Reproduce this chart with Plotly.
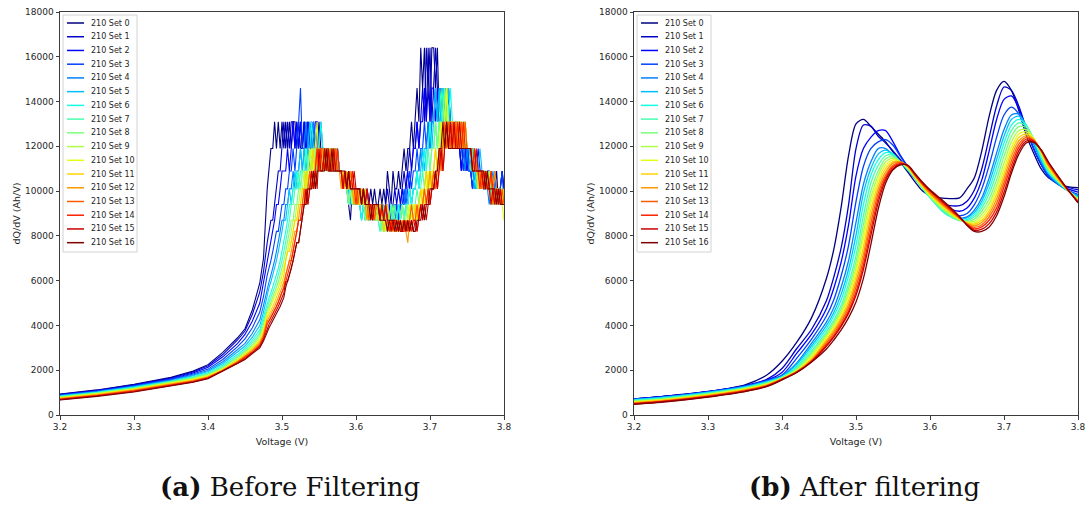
import plotly.graph_objects as go

# ---------------------------------------------------------------- data
SET_LABELS = ["210 Set %d" % i for i in range(17)]
X_TICKS = [3.2, 3.3, 3.4, 3.5, 3.6, 3.7, 3.8]
X_TICK_TEXT = ["3.2", "3.3", "3.4", "3.5", "3.6", "3.7", "3.8"]
Y_TICKS = [0, 2000, 4000, 6000, 8000, 10000, 12000, 14000, 16000, 18000]

# Raw dQ/dV: smooth low-voltage part
V_RAW_LOW = [3.20, 3.25, 3.30, 3.35, 3.38, 3.40, 3.42, 3.44, 3.45, 3.46, 3.47, 3.475]
RAW_LOW_0 = [940, 1120, 1370, 1680, 1960, 2250, 2800, 3450, 3850, 4700, 5900, 7000]
RAW_LOW_1 = [923, 1100, 1345, 1650, 1920, 2200, 2700, 3350, 3750, 4500, 5500, 6400]
RAW_LOW_2 = [906, 1080, 1320, 1620, 1880, 2130, 2600, 3200, 3600, 4200, 5000, 5900]
RAW_LOW_3 = [889, 1065, 1300, 1590, 1830, 2050, 2480, 3050, 3400, 3900, 4600, 5300]
RAW_LOW_4 = [872, 1050, 1280, 1560, 1790, 1990, 2380, 2900, 3200, 3650, 4250, 4900]
RAW_LOW_5 = [855, 1030, 1260, 1530, 1750, 1940, 2300, 2800, 3080, 3480, 4000, 4600]
RAW_LOW_6 = [838, 1010, 1235, 1505, 1710, 1890, 2230, 2700, 2980, 3350, 3800, 4400]
RAW_LOW_7 = [821, 995, 1215, 1480, 1680, 1850, 2170, 2620, 2900, 3250, 3650, 4200]
RAW_LOW_8 = [804, 980, 1195, 1460, 1650, 1810, 2120, 2560, 2830, 3150, 3550, 4050]
RAW_LOW_9 = [787, 960, 1175, 1440, 1620, 1780, 2080, 2510, 2770, 3070, 3450, 3900]
RAW_LOW_10 = [770, 945, 1155, 1420, 1590, 1750, 2050, 2470, 2720, 3000, 3380, 3800]
RAW_LOW_11 = [753, 925, 1135, 1400, 1560, 1720, 2020, 2430, 2670, 2950, 3300, 3700]
RAW_LOW_12 = [736, 905, 1115, 1380, 1540, 1700, 2000, 2400, 2630, 2900, 3230, 3600]
RAW_LOW_13 = [719, 885, 1095, 1360, 1520, 1680, 1990, 2370, 2590, 2850, 3170, 3520]
RAW_LOW_14 = [702, 870, 1075, 1340, 1500, 1660, 1975, 2340, 2560, 2800, 3110, 3450]
RAW_LOW_15 = [685, 850, 1050, 1320, 1480, 1640, 1960, 2310, 2520, 2770, 3060, 3380]
RAW_LOW_16 = [670, 830, 1030, 1300, 1460, 1620, 1950, 2280, 2480, 2740, 3000, 3300]

# Above 3.48 V the raw dQ/dV only takes a few discrete levels (coarse dV steps);
# each letter below is one sample, looked up in STEP_LEVELS.
STEP_LEVELS = {"A": 16400, "B": 14600, "C": 13100, "D": 11900, "E": 10900,
               "F": 10100, "G": 9400, "H": 8700, "I": 8200, "J": 7700,
               "K": 7300, "L": 6900, "M": 6550, "N": 6250, "O": 5950,
               "P": 5700, "Q": 5450, "R": 5250, "S": 5050, "T": 4850,
               "U": 4700, "V": 4500, "W": 4350, "X": 4200, "Y": 4050,
               "Z": 3900, "a": 3750}
V_RAW_STEP = [
    3.4800, 3.4825, 3.4850, 3.4875, 3.4900, 3.4925, 3.4950, 3.4975, 3.5000, 3.5025,
    3.5050, 3.5075, 3.5100, 3.5125, 3.5150, 3.5175, 3.5200, 3.5225, 3.5250, 3.5275,
    3.5300, 3.5325, 3.5350, 3.5375, 3.5400, 3.5425, 3.5450, 3.5475, 3.5500, 3.5525,
    3.5550, 3.5575, 3.5600, 3.5625, 3.5650, 3.5675, 3.5700, 3.5725, 3.5750, 3.5775,
    3.5800, 3.5825, 3.5850, 3.5875, 3.5900, 3.5925, 3.5950, 3.5975, 3.6000, 3.6025,
    3.6050, 3.6075, 3.6100, 3.6125, 3.6150, 3.6175, 3.6200, 3.6225, 3.6250, 3.6275,
    3.6300, 3.6325, 3.6350, 3.6375, 3.6400, 3.6425, 3.6450, 3.6475, 3.6500, 3.6525,
    3.6550, 3.6575, 3.6600, 3.6625, 3.6650, 3.6675, 3.6700, 3.6725, 3.6750, 3.6775,
    3.6800, 3.6825, 3.6850, 3.6875, 3.6900, 3.6925, 3.6950, 3.6975, 3.7000, 3.7025,
    3.7050, 3.7075, 3.7100, 3.7125, 3.7150, 3.7175, 3.7200, 3.7225, 3.7250, 3.7275,
    3.7300, 3.7325, 3.7350, 3.7375, 3.7400, 3.7425, 3.7450, 3.7475, 3.7500, 3.7525,
    3.7550, 3.7575, 3.7600, 3.7625, 3.7650, 3.7675, 3.7700, 3.7725, 3.7750, 3.7775,
    3.7800, 3.7825, 3.7850, 3.7875, 3.7900, 3.7925, 3.7950, 3.7975, 3.8000]
RAW_STEP_0 = ("FEDDCDCDCD CDCDCCDCDD CDCDDCDDCD DEDDEDEEDE EFEFGHFGFG FGFGFGFGFG GFGFGEFGEF "
              "FEFEDEDDCD CBCABACACA ABACBCBCBC CDCDDEDEDE EFEFEFEFFE EFGFEGFEF")
RAW_STEP_1 = ("JIHHGFEEDC DCDCCDCDCD CDCDCDDCDD DEDDEDEDEE EFEFEFGFGF FGFGFGGHGG GHGHGFGHGF "
              "GFGFEFEDED DCDCBCABAC BABCBCBCBC CDCDDEDDED EDEFEEFEFE FEFGFGFEF")
RAW_STEP_2 = ("LKJIHGGFEE EDEDCDCDCD CDCDCDCCDD DDEDDEDEDE EFEFEFGFGF FGFGGHGHGH GHGHGHGHGH "
              "GHGFGFEFED DCDCCBCBCB BCBCBCBCCD CDCDDEDDED EFEEDEFEFE FGFEFGFGF")
RAW_STEP_3 = ("NMLKJIIHGG FFEEDEDCBD DCDCDCDCDC DEDEDEEDEE EFEFEFGFGF GFGFGHGHGH HGHGHGHIHG "
              "GHGGFGFEFE EDEDDCDCDC CBCBCBCBCC CDCDDDEDDE EFEFEFEFEF FEFGFGFEG")
RAW_STEP_4 = ("PONMLKJIHH GGFFEFEEDE DCDEDCDEDD DEDEDEEDEE EFEFFGFGFG GHGHGHGHGH HGHIHGHIHG "
              "HGHGGFGFGF FEEDEDDCDC CBCBCBCBCC CDCDCDDEDE EDEFEFEFEF GFEFGFGFG")
RAW_STEP_5 = ("QPONMLKJIH HGFGFEFEDE DEDCDEDEDE DEDEDEDEEE EFEFFGFGFG GHGHGHGHGH HGHIHGHIHI "
              "HGHGHGGFGF FEFEDEDDCD CBCBCCBCBC CDCDCDDCDD DEFEEDEFEF FGFGFGFGF")
RAW_STEP_6 = ("SRQPONMLKJ IHGGFFEFEE EDEDCDEDDC DEDEEDEDEE EFEFGFGFGF GHGHGHGHGH HIHGHIHGHI "
              "HGHGHGGFGF FEFEEDEDCD DCDCCBCBCB CDCDCDCDDD EDEFEFEFEF EFGFGFGFG")
RAW_STEP_7 = ("TSRQPONMLK JIHGGFFEFE EDEDEDDEDD DEDEEDEDEE EFEFGFGFGF FGFGHGGHGH HIHIHIHGHG "
              "HIHGHGHGHG GFGFEFEDED DCDCBCBCDC CDCDCDDCDD DEDEFEFEFE FEFGFGFGF")
RAW_STEP_8 = ("UTSRQPONML KJIHHGGFFE EFEDEDEDED EDEDEEDEDE EFEFGFGFFG GFGHGHGHGH GHIHIHIHGH "
              "HIHGHIHGHG GHGFGFEFED DCDCDCBCDC CDCDCDCDDD DEDEFEFEEF FGFGFFGFG")
RAW_STEP_9 = ("VUTSRQPONM LKJIHHGGFF EFEDEDEDDE DEDEDEDEEE EFEFEFGFGF GFGFGHGHGH HGHIHGHIHI "
              "IHIHIHGHGH GHGFGFEFEF EDEDCDCBCD DCDCCDCDDD DEDEEFEFEF EFGFGFGFG")
RAW_STEP_10 = ("VUTSRQPONM LKJJIHHGGF FEFEDEDCED EDEDDEDEEE EFEFEFFGFG FGFGHGHGHG GHGHIHIHIH "
               "HIHIHIHGHG GHGGFGFEFE EDEDCDCBDC CDCDDCDCDD DEDEEFEFEF FEFGFGFGH")
RAW_STEP_11 = ("WVUTSRQPON LKKJIHHGGF FEFEEDEDED DEDEEDEDEE EFEFFEFGFG GFGFGHGGHG HGHIHGHIHI "
               "IHIHIHIHGH GHGFGFEFEF EDEDDCDCDC CDCDCDCDDD DEDEFEFEFE FEFGFGFGF")
RAW_STEP_12 = ("XWVUTSRQPO NMLKJIIHGG FGFEFEFEDE EDEDEDEDEE FEFEFEFGFG FGFGHGHGHG GHGHGHIHIH "
               "HIHIHIJHIH HGHGGFGFEF EFEDEDCDCD DCDCDCDCDD DEDEEFEFEF FGFEFGFGG")
RAW_STEP_13 = ("XXWVUTSRQP NMLLKJIHHG FGFEFEEDED DEDEDEEDEE EFEFEFEFFG FGFGGHGGHG GHGHHIHIHI "
               "IHIHIHIHGH HGHGGFGFGF EFEDEDCDCD CDCDDCDCDD DEDEEEFEFE FEGFGFGFG")
RAW_STEP_14 = ("YXWVUTSRQP ONMLKJIHHG GFGFEFEDED EDEDEEDEDE EFEFEFEFGF FGFGFGGHGG GHGHGHIHIH "
               "HIHIIHIHIH HIHGHGGFGF FEFEDEDCDC DCDCDDCDDD DEDEEFEFEF FEFGFGFGG")
RAW_STEP_15 = ("ZYXWVUTSRQ OONMLKJJIH GFGFEFEFDE EDEDEEDEEE EFEFEFFEFF FGFGFGGHGG GHGHGHHIHH "
               "IHIIHIHIHI HIHGHGHGGF FEFEDEDCDC DCDDCDDDDD DEEDEEEFEF FGFGFGFGG")
RAW_STEP_16 = ("aZYXWVUTSR PONMLKJJIH GGFFFEFEEE EEDEEDEEEE EEEFEFFFFF FGFGGGHGGG GHHHHIHHHI "
               "HIHIHIHIHI IHHHGHGGFF FEEDDCDCDD DDDDDDDDDD DEEEEEEEFE FFFFGFGGG")

# Filtered dQ/dV
V_FILT = [3.20, 3.25, 3.30, 3.35, 3.38, 3.40, 3.42, 3.44, 3.46, 3.47, 3.48, 3.49,
          3.50, 3.51, 3.52, 3.53, 3.54, 3.55, 3.56, 3.57, 3.58, 3.59, 3.60, 3.62,
          3.64, 3.65, 3.66, 3.67, 3.68, 3.69, 3.70, 3.71, 3.72, 3.73, 3.74, 3.75,
          3.76, 3.78, 3.80]
FILT_0 = [720, 865, 1050, 1350, 1800, 2400, 3250, 4350, 6100, 7400, 9300, 11600, 13000, 13200, 12900, 12550, 12200, 11750, 11300, 10850, 10400, 10000, 9800, 9680, 9700, 10100, 10600, 11800, 13350, 14500, 14900, 14500, 13600, 12500, 11700, 11000, 10600, 10250, 10150]
FILT_1 = [715, 860, 1045, 1315, 1600, 2080, 2970, 3830, 5100, 6160, 7480, 9400, 11900, 12950, 12900, 12450, 12150, 11800, 11400, 10950, 10550, 10150, 9850, 9400, 9350, 9550, 10050, 11000, 12400, 13800, 14650, 14500, 13800, 12800, 11900, 11200, 10700, 10250, 10050]
FILT_2 = [710, 850, 1040, 1300, 1560, 1900, 2760, 3610, 4750, 5660, 6840, 8500, 10680, 11900, 12400, 12700, 12700, 12200, 11600, 11100, 10650, 10250, 9900, 9300, 9100, 9250, 9700, 10500, 11800, 13200, 14100, 14250, 13700, 12800, 11900, 11200, 10700, 10200, 9950]
FILT_3 = [705, 845, 1035, 1290, 1550, 1780, 2540, 3390, 4420, 5150, 6220, 7580, 9530, 11100, 11900, 12200, 12300, 12050, 11550, 11050, 10650, 10250, 9850, 9150, 8900, 9000, 9400, 10100, 11150, 12400, 13400, 13750, 13450, 12700, 11900, 11200, 10650, 10150, 9850]
FILT_4 = [695, 835, 1025, 1275, 1520, 1750, 2330, 3210, 4150, 4790, 5720, 6900, 8600, 10300, 11300, 11900, 11900, 11600, 11300, 10950, 10600, 10150, 9750, 9050, 8800, 8850, 9150, 9700, 10600, 11700, 12750, 13400, 13450, 12900, 12100, 11350, 10750, 10150, 9800]
FILT_5 = [680, 815, 1005, 1255, 1495, 1720, 2270, 3090, 3990, 4580, 5400, 6520, 8030, 9900, 11000, 11650, 11830, 11650, 11300, 10950, 10580, 10120, 9720, 9020, 8750, 8800, 9050, 9550, 10350, 11400, 12450, 13200, 13350, 12950, 12200, 11400, 10800, 10150, 9750]
FILT_6 = [660, 795, 985, 1235, 1470, 1700, 2180, 2990, 3850, 4420, 5150, 6220, 7580, 9400, 10700, 11400, 11720, 11650, 11300, 10950, 10560, 10100, 9700, 9000, 8700, 8730, 8950, 9400, 10100, 11100, 12150, 12950, 13200, 12950, 12300, 11500, 10850, 10200, 9700]
FILT_7 = [640, 775, 965, 1215, 1445, 1680, 2110, 2860, 3710, 4240, 4900, 5880, 7120, 8900, 10350, 11150, 11580, 11600, 11300, 10980, 10560, 10120, 9720, 9050, 8680, 8680, 8850, 9250, 9880, 10800, 11850, 12700, 13050, 12900, 12350, 11600, 10900, 10200, 9680]
FILT_8 = [620, 755, 945, 1195, 1420, 1660, 2050, 2770, 3610, 4120, 4750, 5660, 6840, 8500, 10000, 10900, 11450, 11530, 11300, 11000, 10580, 10150, 9750, 9100, 8700, 8650, 8750, 9100, 9650, 10500, 11550, 12450, 12880, 12850, 12350, 11650, 10950, 10200, 9650]
FILT_9 = [600, 735, 925, 1175, 1400, 1640, 2000, 2680, 3530, 4020, 4610, 5450, 6580, 8150, 9700, 10700, 11300, 11470, 11300, 11020, 10600, 10170, 9780, 9150, 8720, 8620, 8660, 8950, 9450, 10250, 11250, 12200, 12700, 12750, 12350, 11700, 11000, 10250, 9620]
FILT_10 = [580, 715, 905, 1155, 1380, 1630, 1970, 2610, 3460, 3930, 4510, 5300, 6400, 7850, 9450, 10500, 11150, 11400, 11300, 11050, 10620, 10200, 9820, 9200, 8740, 8600, 8580, 8820, 9280, 10050, 11000, 11950, 12550, 12650, 12350, 11750, 11050, 10250, 9600]
FILT_11 = [560, 695, 885, 1135, 1360, 1620, 1950, 2530, 3370, 3830, 4380, 5100, 6160, 7500, 9150, 10300, 11000, 11320, 11300, 11070, 10650, 10230, 9860, 9250, 8760, 8580, 8520, 8700, 9120, 9850, 10780, 11750, 12400, 12550, 12330, 11780, 11100, 10250, 9580]
FILT_12 = [540, 675, 865, 1115, 1340, 1610, 1940, 2460, 3290, 3730, 4270, 4940, 5930, 7200, 8850, 10100, 10850, 11250, 11300, 11100, 10680, 10260, 9900, 9300, 8780, 8560, 8450, 8600, 8980, 9650, 10580, 11550, 12250, 12470, 12300, 11800, 11150, 10300, 9560]
FILT_13 = [520, 655, 845, 1095, 1320, 1600, 1930, 2420, 3210, 3640, 4150, 4790, 5720, 6950, 8550, 9900, 10700, 11150, 11280, 11120, 10700, 10300, 9950, 9350, 8800, 8530, 8380, 8500, 8850, 9450, 10380, 11350, 12100, 12400, 12280, 11820, 11200, 10300, 9540]
FILT_14 = [505, 640, 830, 1080, 1305, 1590, 1920, 2400, 3130, 3550, 4040, 4640, 5500, 6700, 8250, 9700, 10600, 11080, 11240, 11130, 10720, 10330, 10000, 9400, 8820, 8510, 8310, 8400, 8700, 9250, 10180, 11150, 11950, 12320, 12250, 11830, 11250, 10300, 9520]
FILT_15 = [490, 625, 815, 1060, 1290, 1580, 1910, 2380, 3070, 3480, 3960, 4550, 5350, 6500, 8000, 9500, 10500, 11000, 11200, 11150, 10750, 10360, 10030, 9450, 8840, 8490, 8250, 8300, 8550, 9070, 9950, 10950, 11800, 12230, 12220, 11850, 11300, 10350, 9500]
FILT_16 = [475, 610, 800, 1045, 1275, 1570, 1900, 2370, 2950, 3350, 3800, 4350, 5050, 6100, 7600, 9200, 10350, 10950, 11170, 11150, 10780, 10400, 10060, 9500, 8860, 8470, 8200, 8200, 8400, 8900, 9750, 10800, 11650, 12150, 12180, 11850, 11300, 10350, 9480]

RAW_LOW = [RAW_LOW_0, RAW_LOW_1, RAW_LOW_2, RAW_LOW_3, RAW_LOW_4, RAW_LOW_5,
           RAW_LOW_6, RAW_LOW_7, RAW_LOW_8, RAW_LOW_9, RAW_LOW_10, RAW_LOW_11,
           RAW_LOW_12, RAW_LOW_13, RAW_LOW_14, RAW_LOW_15, RAW_LOW_16]
RAW_STEP = [RAW_STEP_0, RAW_STEP_1, RAW_STEP_2, RAW_STEP_3, RAW_STEP_4, RAW_STEP_5,
            RAW_STEP_6, RAW_STEP_7, RAW_STEP_8, RAW_STEP_9, RAW_STEP_10, RAW_STEP_11,
            RAW_STEP_12, RAW_STEP_13, RAW_STEP_14, RAW_STEP_15, RAW_STEP_16]
FILTERED = [FILT_0, FILT_1, FILT_2, FILT_3, FILT_4, FILT_5, FILT_6, FILT_7, FILT_8,
            FILT_9, FILT_10, FILT_11, FILT_12, FILT_13, FILT_14, FILT_15, FILT_16]

# ---------------------------------------------------------------- styling
W, H = 1086, 508
PLOT_TOP, PLOT_BOTTOM = 12, 415
PANELS = [(60, 504), (634, 1078)]


def jet(t):
    """Matplotlib 'jet' colormap."""
    def seg(pts):
        for (x0, y0), (x1, y1) in zip(pts[:-1], pts[1:]):
            if x0 <= t <= x1:
                return y0 + (y1 - y0) * (t - x0) / (x1 - x0)
        return pts[-1][1]
    r = seg([(0, 0), (0.35, 0), (0.66, 1), (0.89, 1), (1, 0.5)])
    g = seg([(0, 0), (0.125, 0), (0.375, 1), (0.64, 1), (0.91, 0), (1, 0)])
    b = seg([(0, 0.5), (0.11, 1), (0.34, 1), (0.65, 0), (1, 0)])
    return "rgb(%d,%d,%d)" % (round(r * 255), round(g * 255), round(b * 255))


COLORS = [jet(i / 16) for i in range(17)]


def px(xp, yp):
    return xp / W, 1 - yp / H


def decode(code):
    return [STEP_LEVELS[c] for c in code.replace(" ", "")]


fig = go.Figure()

for i, name in enumerate(SET_LABELS):
    fig.add_trace(go.Scatter(
        x=V_RAW_LOW + V_RAW_STEP, y=RAW_LOW[i] + decode(RAW_STEP[i]),
        mode="lines", name=name, showlegend=False,
        line=dict(color=COLORS[i], width=1.1),
        xaxis="x", yaxis="y"))

for i, name in enumerate(SET_LABELS):
    fig.add_trace(go.Scatter(
        x=V_FILT, y=FILTERED[i], mode="lines", name=name, showlegend=False,
        line=dict(color=COLORS[i], width=1.3, shape="spline", smoothing=0.8),
        xaxis="x2", yaxis="y2"))

AXIS_COLOR = "#3c3c3c"
TICK_FONT = dict(family="DejaVu Sans", size=9, color="#262626")
TITLE_FONT = dict(family="DejaVu Sans", size=9.5, color="#262626")

y_dom = [1 - PLOT_BOTTOM / H, 1 - PLOT_TOP / H]
layout = dict(
    width=W, height=H, margin=dict(l=0, r=0, t=0, b=0),
    paper_bgcolor="white", plot_bgcolor="white", showlegend=False,
)
for k, (x0, x1) in enumerate(PANELS):
    sx = "" if k == 0 else "2"
    layout["xaxis" + sx] = dict(
        domain=[x0 / W, x1 / W], range=[3.2, 3.8], anchor="y" + sx,
        tickvals=X_TICKS, ticktext=X_TICK_TEXT,
        showline=True, mirror=True, linecolor=AXIS_COLOR, linewidth=1,
        ticks="outside", ticklen=3.5, tickwidth=1, tickcolor=AXIS_COLOR,
        showgrid=False, zeroline=False, tickfont=TICK_FONT,
        title=dict(text="Voltage (V)", font=TITLE_FONT, standoff=7),
        automargin=False)
    layout["yaxis" + sx] = dict(
        domain=y_dom, range=[0, 18000], anchor="x" + sx,
        tickvals=Y_TICKS, tickformat="d",
        showline=True, mirror=True, linecolor=AXIS_COLOR, linewidth=1,
        ticks="outside", ticklen=3.5, tickwidth=1, tickcolor=AXIS_COLOR,
        showgrid=False, zeroline=False, tickfont=TICK_FONT,
        title=dict(text="dQ/dV (Ah/V)", font=TITLE_FONT, standoff=2),
        automargin=False)

fig.update_layout(**layout)

# Legend boxes drawn inside each panel
shapes, annotations = [], []
ROW0, ROW_GAP = 23.0, 13.73
for (x0, x1) in PANELS:
    bx0, by0 = px(x0 + 3, PLOT_TOP + 3)
    bx1, by1 = px(x0 + 77, PLOT_TOP + 240)
    shapes.append(dict(type="rect", xref="paper", yref="paper",
                       x0=bx0, x1=bx1, y0=by1, y1=by0,
                       line=dict(color="#d2d2d2", width=1),
                       fillcolor="rgba(255,255,255,0.85)", layer="above"))
    for i, name in enumerate(SET_LABELS):
        yy = ROW0 + ROW_GAP * i
        lx0, ly = px(x0 + 7, yy)
        lx1, _ = px(x0 + 24, yy)
        shapes.append(dict(type="line", xref="paper", yref="paper",
                           x0=lx0, x1=lx1, y0=ly, y1=ly,
                           line=dict(color=COLORS[i], width=1.5), layer="above"))
        tx, ty = px(x0 + 29, yy)
        annotations.append(dict(text=name, xref="paper", yref="paper",
                                x=tx, y=ty, xanchor="left", yanchor="middle",
                                showarrow=False,
                                font=dict(family="DejaVu Sans", size=8,
                                          color="#262626")))

# Sub-figure captions
CAPTIONS = ["<b>(a)</b> Before Filtering", "<b>(b)</b> After filtering"]
for (x0, x1), cap in zip(PANELS, CAPTIONS):
    cx, cy = px((x0 + x1) / 2 + 8, 487)
    annotations.append(dict(text=cap, xref="paper", yref="paper", x=cx, y=cy,
                            xanchor="center", yanchor="middle", showarrow=False,
                            font=dict(family="DejaVu Serif", size=26,
                                      color="#111111")))

fig.update_layout(shapes=shapes, annotations=annotations)
fig.write_html("out.html")
